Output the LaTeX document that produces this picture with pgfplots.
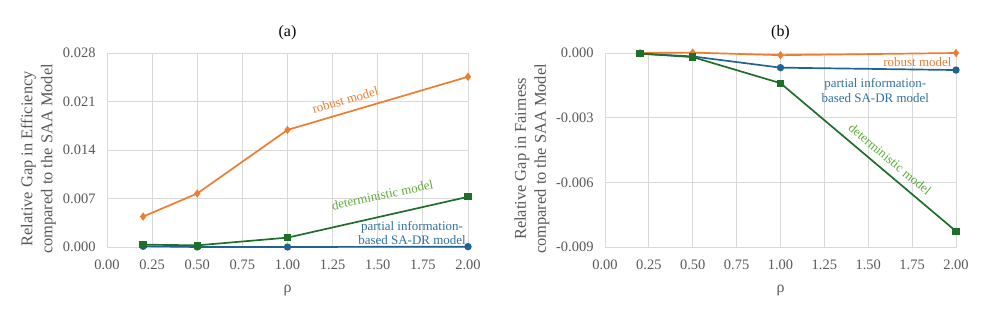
\documentclass[border=0pt]{standalone}
\usepackage{pgfplots}
\pgfplotsset{compat=1.18}
\usepackage{fontspec}
\setmainfont{Liberation Serif}
\definecolor{cor}{HTML}{ED7D31}
\definecolor{cbl}{HTML}{1F6391}
\definecolor{cgr}{HTML}{1E6F2A}
\definecolor{lbl}{HTML}{2F72A0}
\definecolor{lgr}{HTML}{5FAA38}
\definecolor{txt}{HTML}{595959}
\definecolor{grd}{HTML}{D9D9D9}
\pgfplotsset{
  myax/.style={
    scale only axis, height=194bp,
    xmin=0, xmax=2,
    xtick={0,0.25,...,2},
    axis line style={grd, line width=0.8pt},
    grid=major, major grid style={grd, line width=0.8pt},
    tick style={draw=none},
    ticklabel style={font=\fontsize{14.5}{16}\selectfont, text=txt},
    /pgf/number format/assume math mode=true,
    xticklabel style={yshift=-9bp, /pgf/number format/.cd, fixed, fixed zerofill, precision=2},
    yticklabel style={xshift=-8bp, /pgf/number format/.cd, fixed, fixed zerofill, precision=3},
    scaled y ticks=false, scaled x ticks=false,
    xlabel={ρ}, xlabel style={font=\fontsize{16}{18}\selectfont, text=txt, at={(axis description cs:0.5,0)}, anchor=center, yshift=-43bp},
    ylabel style={font=\fontsize{16.5}{20}\selectfont, text=txt, align=center, anchor=center},
    title style={font=\fontsize{16}{18}\selectfont, at={(axis description cs:0.5,1)}, anchor=base, yshift=11bp},
    every axis plot/.append style={line width=1.7pt},
    clip=false,
  }
}
\begin{document}
\begin{tikzpicture}
\begin{axis}[myax, width=361bp, at={(107bp,73bp)}, anchor=south west,
  ymin=0, ymax=0.028, ytick={0,0.007,0.014,0.021,0.028},
  title={(a)},
  ylabel style={at={(axis description cs:-0.19,0.454)}},
  ylabel={Relative Gap in Efficiency\\compared to the SAA Model}]
\addplot[cbl, mark=*, mark size=2.8pt] coordinates {(0.2,0.0001) (0.5,0.0) (1.0,0.0) (2.0,0.00005)};
\addplot[cgr, mark=square*, mark size=2.8pt] coordinates {(0.2,0.00034) (0.5,0.00024) (1.0,0.00135) (2.0,0.00724)};
\addplot[cor, mark=diamond*, mark size=2.8pt] coordinates {(0.2,0.00439) (0.5,0.00772) (1.0,0.0169) (2.0,0.02457)};
\node[cor, rotate=16, font=\fontsize{13}{15}\selectfont] at (axis cs:1.32,0.0212) {robust model};
\node[lgr, rotate=12, font=\fontsize{13}{15}\selectfont] at (axis cs:1.526,0.0075) {deterministic model};
\node[lbl, align=center, font=\fontsize{13}{14.5}\selectfont] at (axis cs:1.69,0.0020) {partial information-\\based SA-DR model};
\end{axis}
\begin{axis}[myax, width=351bp, at={(605bp,73bp)}, anchor=south west,
  ymin=-0.009, ymax=0, ytick={-0.009,-0.006,-0.003,0},
  title={(b)},
  ylabel style={at={(axis description cs:-0.208,0.454)}},
  ylabel={Relative Gap in Fairness\\compared to the SAA Model}]
\addplot[cor, mark=diamond*, mark size=2.8pt] coordinates {(0.2,0.0) (0.5,0.00002) (1.0,-0.0001) (2.0,0.0)};
\addplot[cbl, mark=*, mark size=2.8pt] coordinates {(0.2,-0.00003) (0.5,-0.00016) (1.0,-0.00068) (2.0,-0.00079)};
\addplot[cgr, mark=square*, mark size=2.8pt] coordinates {(0.2,-0.00003) (0.5,-0.00019) (1.0,-0.0014) (2.0,-0.00827)};
\node[cor, font=\fontsize{13}{15}\selectfont] at (axis cs:1.78,-0.00042) {robust model};
\node[lbl, align=center, font=\fontsize{13}{14.5}\selectfont] at (axis cs:1.54,-0.00174) {partial information-\\based SA-DR model};
\node[lgr, rotate=-40, font=\fontsize{13}{15}\selectfont] at (axis cs:1.624,-0.00493) {deterministic model};
\end{axis}
\pgfresetboundingbox
\path (0,0) rectangle (996bp,320bp);
\end{tikzpicture}
\end{document}
